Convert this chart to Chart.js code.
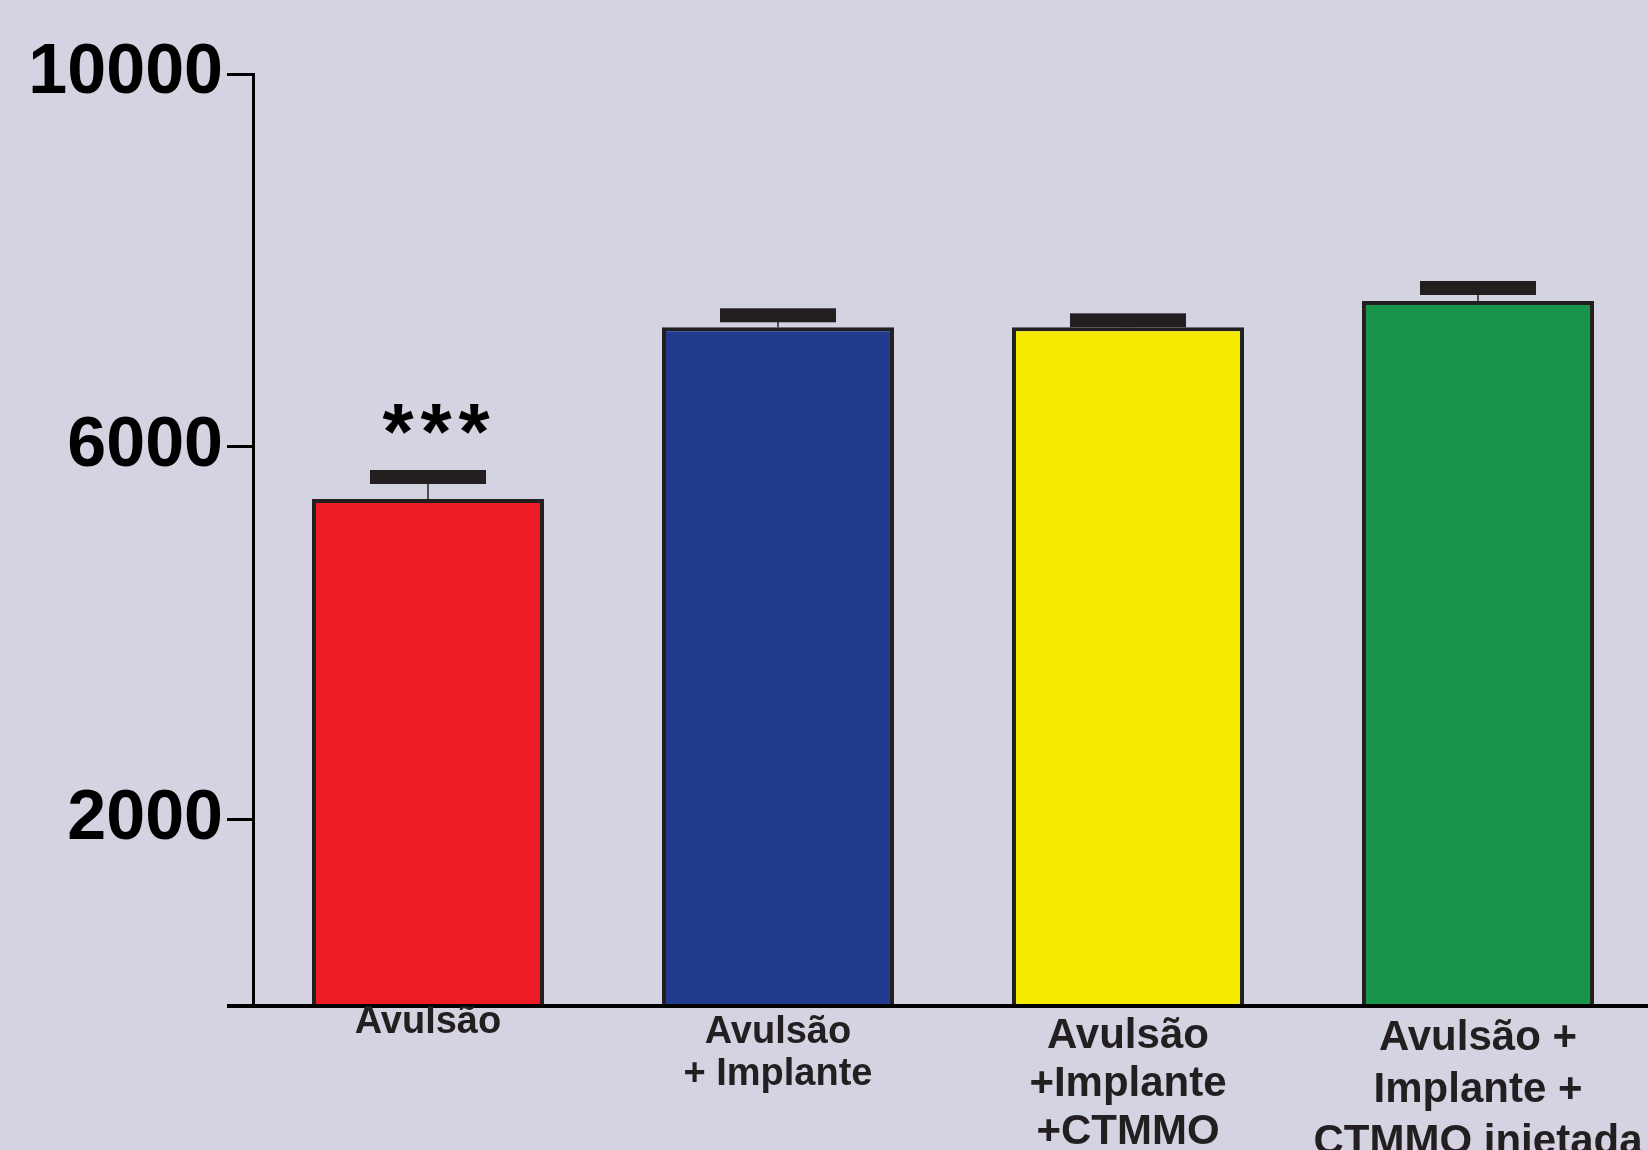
<!DOCTYPE html>
<html>
<head>
<meta charset="utf-8">
<script src="https://cdn.jsdelivr.net/npm/chart.js@4/dist/chart.umd.min.js"></script>
<style>
  html, body { margin: 0; padding: 0; width: 1648px; height: 1150px; overflow: hidden; background: #d4d3e2; }
  #wrap { position: absolute; left: 0; top: 0; width: 1653px; height: 1174px; }
</style>
</head>
<body>
<div id="wrap"><canvas id="myChart"></canvas></div>
<script>
const categories = [
	["Avulsão"],
	["Avulsão", "+ Implante"],
	["Avulsão", "+Implante", "+CTMMO"],
	["Avulsão +", "Implante +", "CTMMO injetada"],
];
const means = [5440, 7282, 7282, 7564];
const sem = [236, 129, 75, 140];
const barColors = ["#ed1c24", "#213b8f", "#f5eb00", "#17944a"];
const stars = ["***", "", "", ""];
const yTicks = [0, 2000, 6000, 10000];

const labelSize = [38, 38, 42, 42];
const labelLine = [22, 42, 48, 52];

// error bars + significance stars
const errorBars = {
	id: "errorBars",
	afterDatasetsDraw(chart) {
		const ctx = chart.ctx;
		const y = chart.scales.y;
		const meta = chart.getDatasetMeta(0);
		ctx.save();
		meta.data.forEach((bar, i) => {
			const top = y.getPixelForValue(means[i]);
			const cap = y.getPixelForValue(means[i] + sem[i]);
			const w = bar.width * 0.5;
			ctx.fillStyle = "#231f20";
			ctx.fillRect(bar.x - 0.75, cap, 1.5, top - cap);
			ctx.fillRect(bar.x - w / 2, cap - 7, w, 14);
			if (stars[i]) {
				ctx.fillStyle = "#000";
				ctx.font = "bold 80px 'Liberation Sans', Arial, sans-serif";
				ctx.textAlign = "center";
				ctx.textBaseline = "alphabetic";
				const n = stars[i].length;
				for (let k = 0; k < n; k++) {
					ctx.fillText("*", bar.x + 8 + (k - (n - 1) / 2) * 38, cap - 18);
				}
			}
		});
		ctx.restore();
	},
};

const data = {
	labels: categories,
	datasets: [
		{
			data: means,
			backgroundColor: barColors,
			borderColor: "#231f20",
			borderWidth: 4,
			categoryPercentage: 1,
			barPercentage: 0.663,
		},
	],
};

const config = {
	type: "bar",
	data,
	plugins: [errorBars],
	options: {
		responsive: true,
		maintainAspectRatio: false,
		animation: false,
		layout: { padding: { top: 74, left: 0, right: 0, bottom: 0 } },
		plugins: {
			legend: { display: false },
			tooltip: { enabled: false },
		},
		scales: {
			x: {
				grid: { display: false, drawTicks: false },
				border: { display: true, color: "#000", width: 4 },
				ticks: {
					padding: 6,
					color: "#231f20",
					maxRotation: 0,
					autoSkip: false,
					font: (c) => ({
						family: "'Liberation Sans', Arial, sans-serif",
						weight: "bold",
						size: labelSize[c.index],
						lineHeight: labelLine[c.index] + "px",
					}),
				},
			},
			y: {
				min: 0,
				max: 10000,
				afterBuildTicks: (axis) => {
					axis.ticks = yTicks.map((v) => ({ value: v }));
				},
				afterFit: (s) => {
					s.width = 253;
				},
				grid: {
					drawOnChartArea: false,
					drawTicks: true,
					tickLength: 26,
					color: "#000",
					lineWidth: (c) => (c.tick && c.tick.value === 0 ? 4 : 3),
				},
				border: { display: true, color: "#000", width: 3 },
				ticks: {
					padding: 4,
					color: "#000",
					font: { family: "'Liberation Sans', Arial, sans-serif", weight: "bold", size: 70 },
					callback: (v) => (v === 0 ? "" : String(v)),
				},
			},
		},
	},
};

var myChart = new Chart(document.getElementById("myChart"), config);
</script>
</body>
</html>
